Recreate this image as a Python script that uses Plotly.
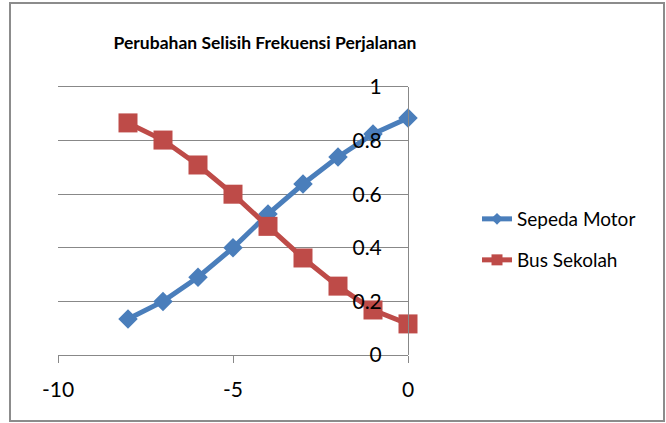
import plotly.graph_objects as go

x_vals = [-8, -7, -6, -5, -4, -3, -2, -1, 0]
sepeda_motor = [0.134, 0.20, 0.29, 0.40, 0.526, 0.638, 0.739, 0.825, 0.884]
bus_sekolah = [0.866, 0.802, 0.709, 0.60, 0.48, 0.362, 0.257, 0.168, 0.116]
x_tickvals = [-10, -5, 0]
x_ticktext = ["-10", "-5", "0"]
title_text = "Perubahan Selisih Frekuensi Perjalanan"
FONT = "Lato"
BLUE = "#4A7EBB"
RED = "#BE4B48"

fig = go.Figure()
fig.add_trace(go.Scatter(
    x=x_vals, y=sepeda_motor, name="Sepeda Motor", mode="lines+markers",
    line=dict(color=BLUE, width=5),
    marker=dict(symbol="diamond", size=15, color=BLUE),
    cliponaxis=False, showlegend=False))
fig.add_trace(go.Scatter(
    x=x_vals, y=bus_sekolah, name="Bus Sekolah", mode="lines+markers",
    line=dict(color=RED, width=5),
    marker=dict(symbol="square", size=19, color=RED),
    cliponaxis=False, showlegend=False))
# legend entries (smaller legend markers, like the original)
fig.add_trace(go.Scatter(
    x=[None], y=[None], name="Sepeda Motor", mode="lines+markers",
    line=dict(color=BLUE, width=5),
    marker=dict(symbol="diamond", size=9, color=BLUE),
    legend="legend", showlegend=True))
fig.add_trace(go.Scatter(
    x=[None], y=[None], name="Bus Sekolah", mode="lines+markers",
    line=dict(color=RED, width=5),
    marker=dict(symbol="square", size=11, color=RED),
    legend="legend2", showlegend=True))

fig.update_layout(
    width=666, height=423,
    showlegend=True,
    margin=dict(l=58, r=258, t=87, b=68, autoexpand=False),
    paper_bgcolor="white", plot_bgcolor="white",
    font=dict(family=FONT, color="black"),
    title=dict(text="<b>" + title_text + "</b>", x=265/666, xanchor="center",
               y=1 - 43/423, yanchor="middle", font=dict(size=17.5, family=FONT)),
    legend=dict(x=(477-58)/350, y=(355-219)/268, xanchor="left", yanchor="middle",
                font=dict(size=19), bgcolor="rgba(0,0,0,0)"),
    legend2=dict(x=(477-58)/350, y=(355-260)/268, xanchor="left", yanchor="middle",
                 font=dict(size=19), bgcolor="rgba(0,0,0,0)"),
    xaxis=dict(range=[-10, 0], tickmode="array", tickvals=x_tickvals, ticktext=x_ticktext,
               showgrid=False, zeroline=False,
               showline=True, mirror=True, linecolor="#888888", linewidth=1,
               ticks="outside", ticklen=7, tickcolor="#888888",
               tickfont=dict(size=21), ticklabelstandoff=9),
    yaxis=dict(range=[0, 1], dtick=0.2, tick0=0, side="left",
               anchor="free", position=1.0, ticklabelstandoff=22,
               showgrid=True, gridcolor="#888888", gridwidth=1,
               zeroline=False, showline=True, linecolor="#888888", linewidth=1,
               ticks="", tickfont=dict(size=21)),
    shapes=[dict(type="rect", xref="paper", yref="paper",
                 x0=(10-58)/350, x1=(664-58)/350,
                 y0=(355-421)/268, y1=(355-3)/268,
                 line=dict(color="#8C8C8C", width=2), fillcolor="rgba(0,0,0,0)",
                 layer="below")],
)

fig.write_html("out.html", config={"displayModeBar": False},
               post_script="document.body.style.margin='0';")
